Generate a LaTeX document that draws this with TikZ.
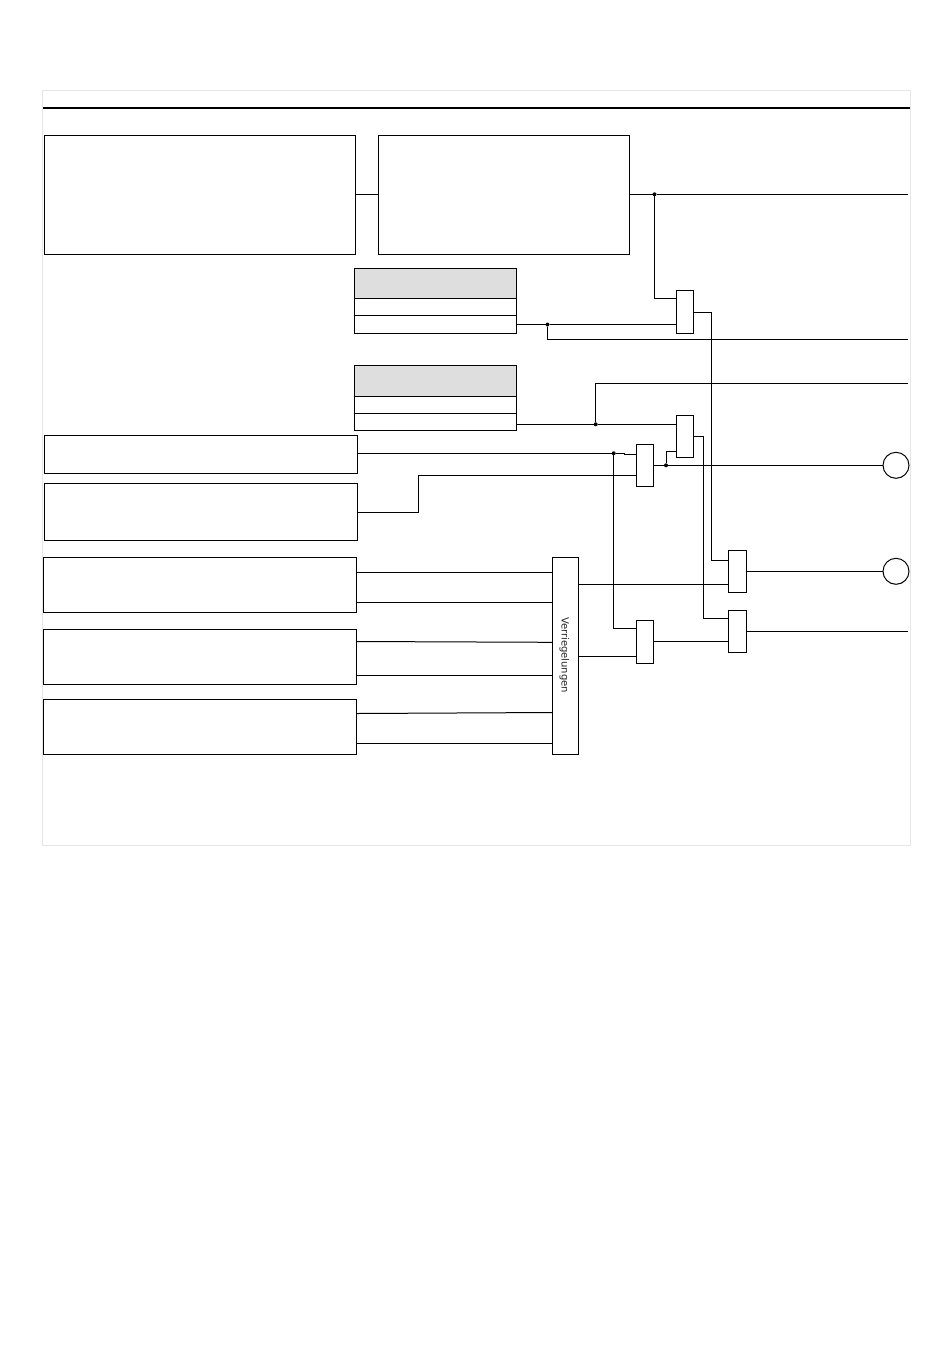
\documentclass[tikz,border=0pt]{standalone}
\usepackage{fontspec}
\setmainfont{DejaVu Sans}
\usetikzlibrary{calc}
\tikzset{
  box/.style={draw=black,line width=1pt,inner sep=0pt,outer sep=0pt,fill=white},
  headbox/.style={box,fill=headgray},
  wire/.style={draw=black,line width=1pt,line join=miter},
  rim/.style={draw=rimgray,line width=1pt},
  rule/.style={draw=black,line width=2pt},
  dot/.style={fill=black,draw=none,circle,inner sep=0pt,minimum size=4pt,outer sep=0pt},
  lamp/.style={circle,draw=black,line width=1pt,fill=white,inner sep=0pt,outer sep=0pt,minimum size=26pt}
}
\definecolor{headgray}{HTML}{DEDEDE}
\definecolor{rimgray}{HTML}{E6E6E6}
\newcommand{\bx}[6][box]{\node[#1,minimum width={(#5-#3)*1pt},minimum height={(#6-#4)*1pt}] (#2) at ({(#3+#5)/2},{(#4+#6)/2}) {};}
\begin{document}
\begin{tikzpicture}[x=1pt,y=-1pt]
\useasboundingbox (0,0) rectangle (950,1369);
\fill[white] (0,0) rectangle (950,1369);
\draw[rim] (42.5,90.5) rectangle (910.5,845.5);
\draw[rule] (43,108) -- (910,108);
% outer right ends
\coordinate (e1) at (908,194.3);
\coordinate (e2) at (908,339.5);
\coordinate (e3) at (908,383.3);
\coordinate (e4) at (908,631.3);
% big boxes
\bx{A}{44.5}{135.5}{355.5}{254.5}
\bx{B}{378.5}{135.5}{629.5}{254.5}
\bx[headbox]{T1h}{354.5}{268.5}{516.5}{298.5}
\bx{T1a}{354.5}{298.5}{516.5}{315.5}
\bx{T1b}{354.5}{315.5}{516.5}{333.5}
\bx[headbox]{T2h}{354.5}{365.5}{516.5}{396.5}
\bx{T2a}{354.5}{396.5}{516.5}{413.5}
\bx{T2b}{354.5}{413.5}{516.5}{430.5}
\bx{C}{44.5}{435.5}{357.5}{473.5}
\bx{D}{44.5}{483.5}{357.5}{540.5}
\bx{E}{43.5}{557.5}{356.5}{612.5}
\bx{F}{43.5}{629.5}{356.5}{684.5}
\bx{H}{43.5}{699.5}{356.5}{754.5}
\bx{V}{552.5}{557.5}{578.5}{754.5}
\node[rotate=-90,font=\fontsize{10pt}{11pt}\selectfont,text=black!85,inner sep=0pt] (Vt) at (564.5,655) {Verriegelungen};
% gates
\bx{G1}{676.5}{290.5}{693.5}{333.5}
\bx{G2}{676.5}{415.5}{693.5}{457.5}
\bx{G3}{636.5}{444.5}{653.5}{486.5}
\bx{G4}{636.5}{620.5}{653.5}{663.5}
\bx{G5}{728.5}{550.5}{746.5}{592.5}
\bx{G6}{728.5}{610.5}{746.5}{652.5}
% lamps
\node[lamp] (L1) at (896,465.3) {};
\node[lamp] (L2) at (896,571.3) {};
% junctions
\node[dot] (j1) at (654.5,194.3) {};
\node[dot] (j2) at (547.5,324.5) {};
\node[dot] (j3) at (595.7,424.3) {};
\node[dot] (j4) at (613.7,453.3) {};
\node[dot] (j5) at (666,465.3) {};
% connectors
\draw[wire] (A.east |- 0,194.3) -- (B.west |- 0,194.3);
\draw[wire] (B.east |- j1) -- (j1) -- (e1);
\draw[wire] (j1) |- (G1.west |- 0,298.5);
\draw[wire] (T1b.east |- j2) -- (j2) -- (G1.west |- j2);
\draw[wire] (j2) |- (e2);
\draw[wire] (G1.east |- 0,312.5) -| (711.5,560.5) -- (G5.west |- 0,560.5);
\draw[wire] (T2b.east |- j3) -- (j3) -- (G2.west |- j3);
\draw[wire] (j3) |- (e3);
\draw[wire] (G2.east |- 0,436.5) -| (703.5,618.5) -- (G6.west |- 0,618.5);
\draw[wire] (j5) |- (G2.west |- 0,451.5);
\draw[wire] (C.east |- j4) -- (j4) -- (624.5,453.3) -- (624.5,454.5) -- (G3.west |- 0,454.5);
\draw[wire] (j4) |- (G4.west |- 0,628.5);
\draw[wire] (D.east |- 0,512.5) -| (418.5,475.5) -- (G3.west |- 0,475.5);
\draw[wire] (G3.east |- j5) -- (j5) -- (L1.west);
\draw[wire] (V.east |- 0,584.5) -- (G5.west |- 0,584.5);
\draw[wire] (V.east |- 0,656.5) -- (G4.west |- 0,656.5);
\draw[wire] (G4.east |- 0,641.5) -- (G6.west |- 0,641.5);
\draw[wire] (G5.east |- L2) -- (L2.west);
\draw[wire] (G6.east |- e4) -- (e4);
\draw[wire] (E.east |- 0,572.5) -- (V.west |- 0,572.5);
\draw[wire] (E.east |- 0,602.5) -- (V.west |- 0,602.5);
\draw[wire] (F.east |- 0,641.5) -- (V.west |- 0,642.3);
\draw[wire] (F.east |- 0,675.5) -- (V.west |- 0,675.5);
\draw[wire] (H.east |- 0,713.5) -- (V.west |- 0,712.5);
\draw[wire] (H.east |- 0,743.5) -- (V.west |- 0,743.5);
\end{tikzpicture}
\end{document}
